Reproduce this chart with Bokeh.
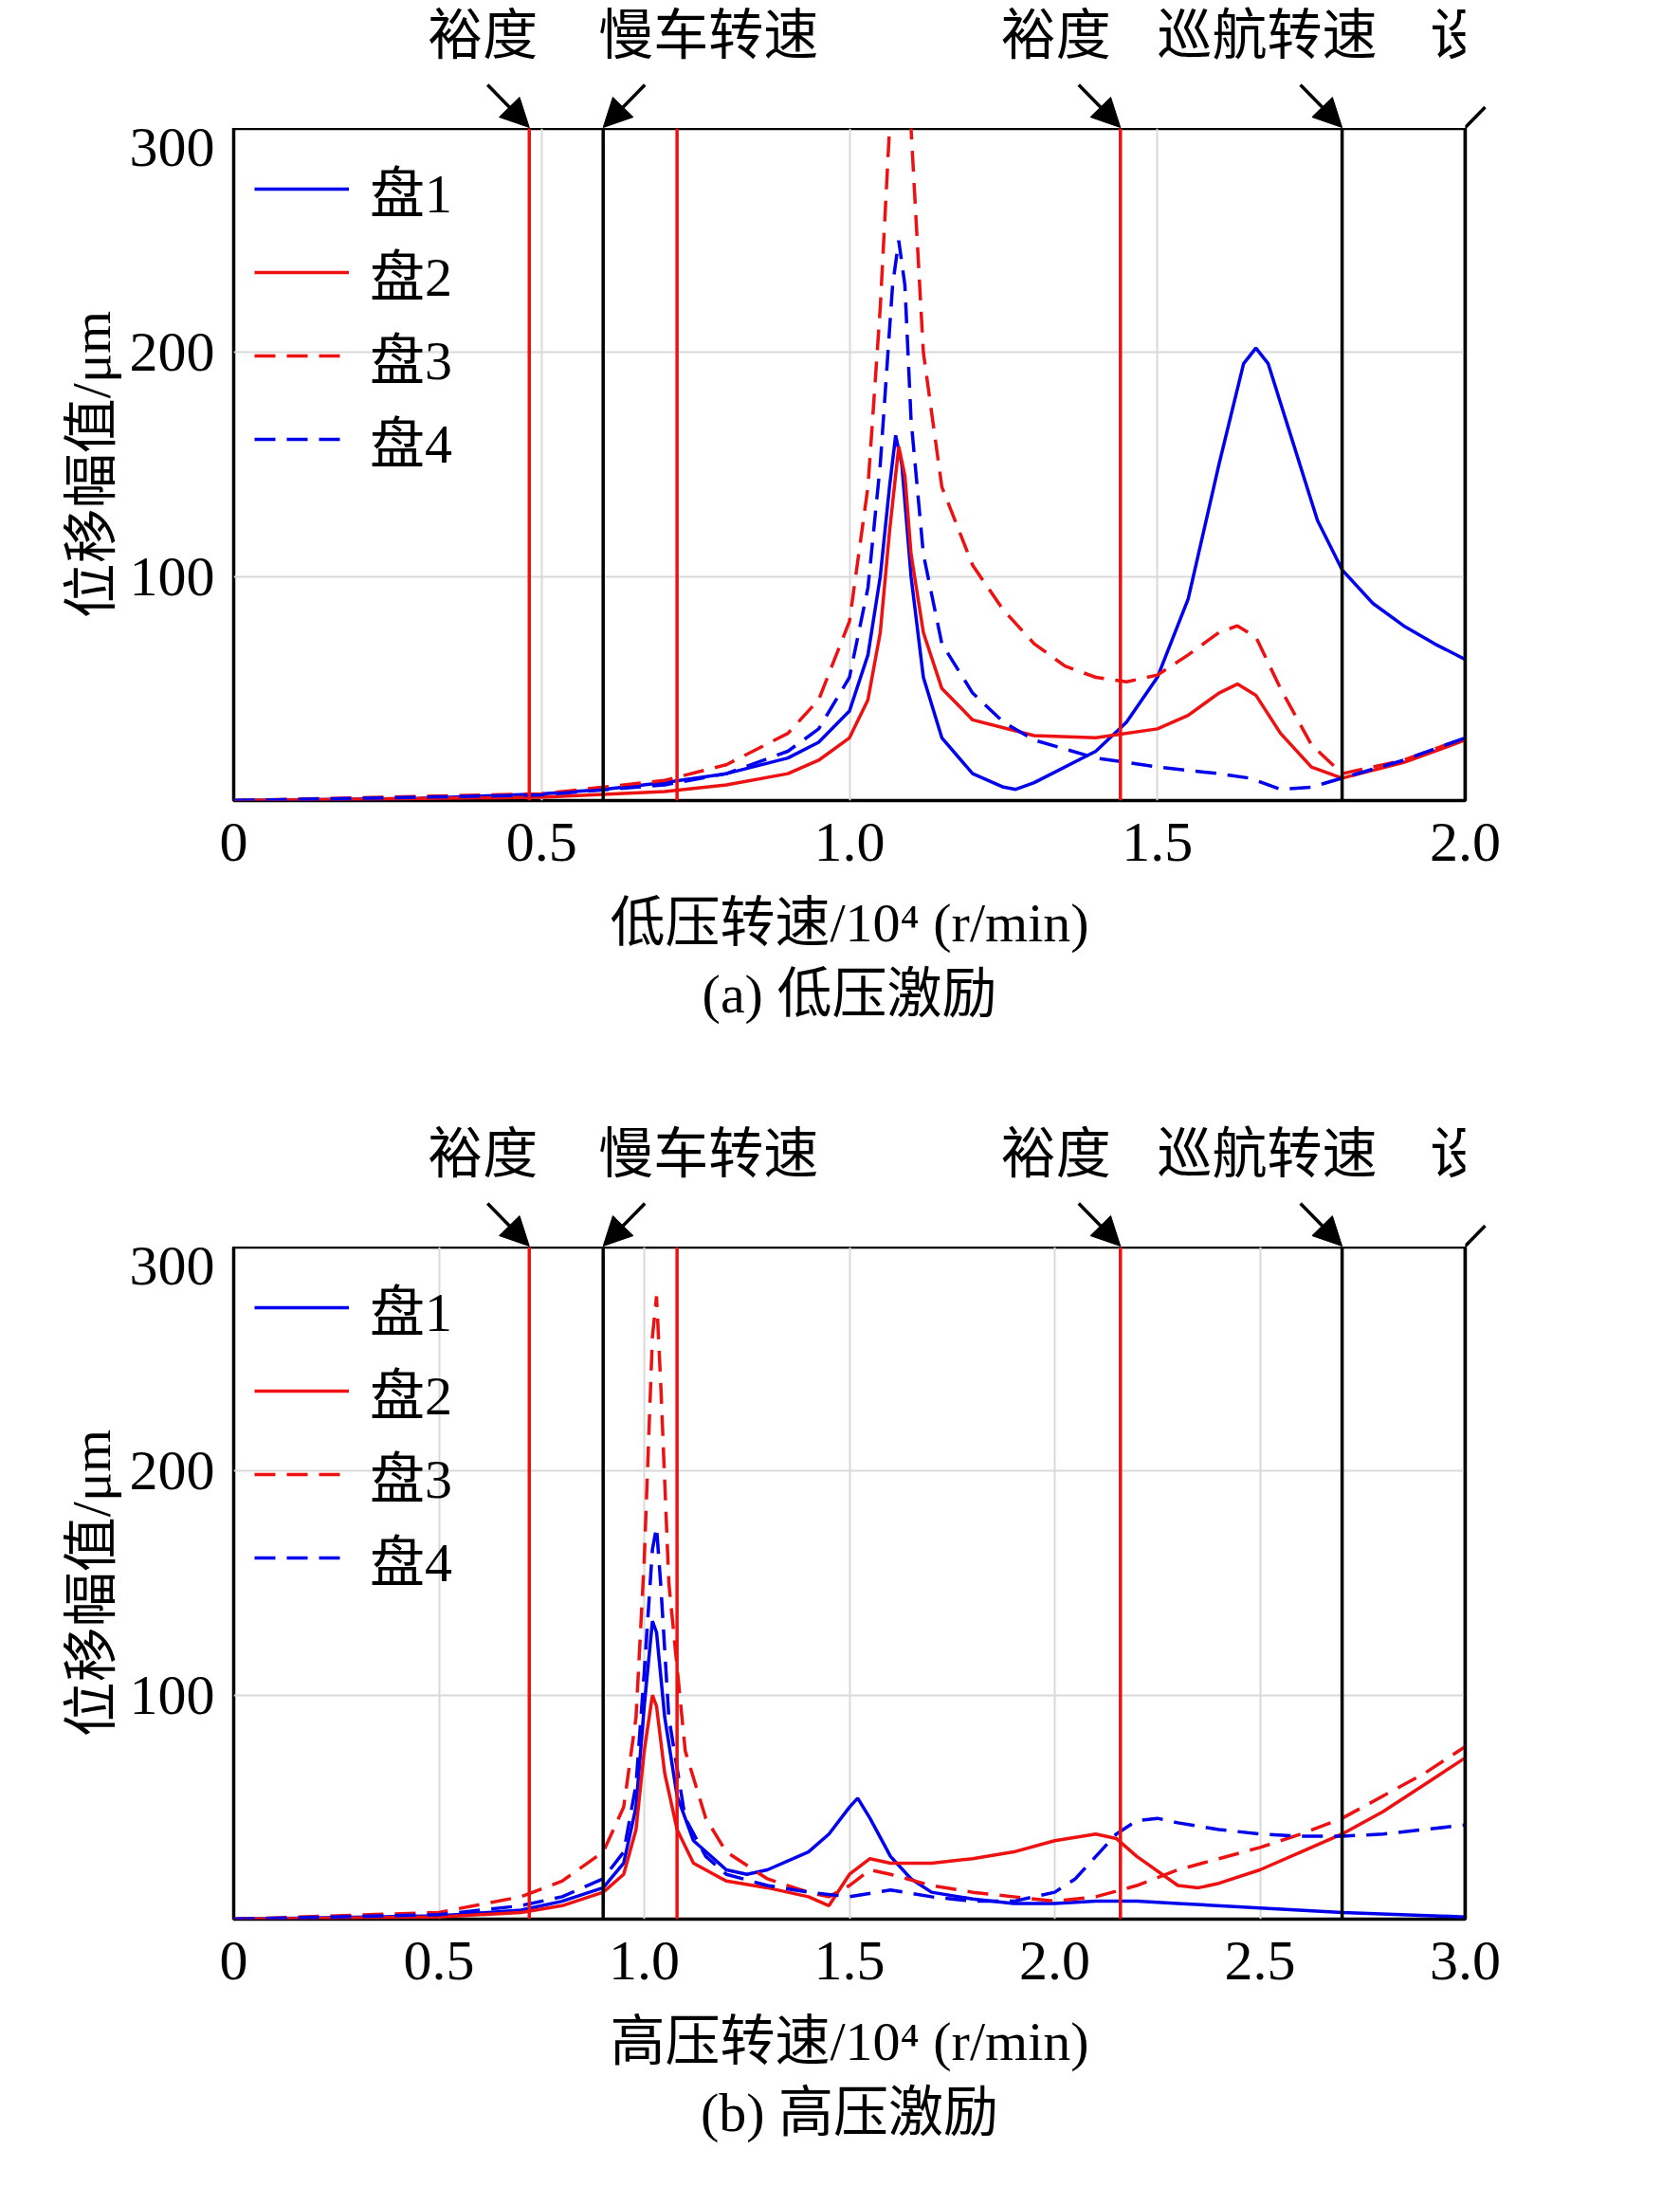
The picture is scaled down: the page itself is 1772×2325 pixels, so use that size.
from bokeh.plotting import figure
from bokeh.layouts import column
from bokeh.models import Label, Arrow, NormalHead, Span, Legend, LegendItem, Range1d, Title, FixedTicker
from bokeh.embed import file_html
from bokeh.resources import INLINE

FONT = "Liberation Serif, Noto Sans CJK SC"
BLUE = "#0000ee"; RED = "#ee1111"

# ---- panel (a) data ----
a_x1 = [0,0.3,0.5,0.6,0.7,0.8,0.9,0.95,1.0,1.03,1.05,1.065,1.075,1.085,1.1,1.12,1.15,1.2,1.25,1.27,1.3,1.4,1.45,1.5,1.55,1.6,1.64,1.66,1.68,1.72,1.76,1.8,1.85,1.9,1.95,2.0]
a_y1 = [0,1,3,5,8,12,19,26,40,65,100,140,163,150,100,55,28,12,6,5,8,22,35,55,90,150,195,202,195,160,125,103,88,78,70,63]
a_x2 = [0,0.5,0.7,0.8,0.9,0.95,1.0,1.03,1.05,1.065,1.08,1.09,1.1,1.12,1.15,1.2,1.3,1.4,1.5,1.55,1.6,1.63,1.66,1.7,1.75,1.8,1.9,2.0]
a_y2 = [0,1.5,4,7,12,18,28,45,75,120,158,145,110,75,50,36,29,28,32,38,48,52,47,30,15,10,17,27]
a_x3 = [0,0.5,0.7,0.8,0.9,0.95,1.0,1.03,1.05,1.065,1.075,1.09,1.1,1.12,1.15,1.2,1.25,1.3,1.35,1.4,1.45,1.5,1.55,1.6,1.63,1.66,1.7,1.75,1.8,1.9,2.0]
a_y3 = [0,3,9,16,30,45,80,140,220,300,380,380,300,200,140,105,85,70,60,55,53,56,65,75,78,73,50,25,12,18,28]
a_x4 = [0,0.5,0.7,0.8,0.9,0.95,1.0,1.03,1.05,1.07,1.08,1.09,1.1,1.12,1.15,1.2,1.25,1.3,1.4,1.5,1.6,1.65,1.7,1.75,1.8,1.9,2.0]
a_y4 = [0,2.5,7,12,22,32,55,95,150,230,250,230,170,110,70,48,35,27,19,15,12,10,5,6,10,18,28]

# ---- panel (b) data ----
b_x1 = [0,0.5,0.7,0.8,0.9,0.95,0.98,1.0,1.02,1.03,1.05,1.08,1.12,1.2,1.25,1.3,1.4,1.45,1.5,1.52,1.55,1.6,1.65,1.7,1.8,1.9,2.0,2.1,2.2,2.3,2.5,2.7,3.0]
b_y1 = [0,1.5,4,8,14,25,50,95,133,128,90,55,35,22,20,22,30,38,50,54,45,28,18,12,9,7,7,8,8,7,5,3,1]
b_x2 = [0,0.5,0.7,0.8,0.9,0.95,0.98,1.0,1.02,1.03,1.05,1.08,1.12,1.2,1.3,1.4,1.45,1.5,1.55,1.6,1.7,1.8,1.9,2.0,2.1,2.15,2.2,2.3,2.35,2.4,2.5,2.6,2.7,2.8,2.9,3.0]
b_y2 = [0,1,3,6,12,20,40,75,100,95,65,40,25,17,14,10,6,20,27,25,25,27,30,35,38,36,28,15,14,16,22,30,38,48,60,72]
b_x3 = [0,0.5,0.7,0.8,0.9,0.95,0.98,1.0,1.02,1.03,1.04,1.06,1.1,1.15,1.2,1.3,1.4,1.45,1.5,1.55,1.6,1.7,1.8,1.9,2.0,2.1,2.2,2.3,2.4,2.5,2.6,2.7,2.8,2.9,3.0]
b_y3 = [0,3,10,17,30,50,90,160,260,278,240,150,75,45,30,18,12,10,15,22,20,15,12,10,8,10,15,22,27,32,38,45,55,65,77]
b_x4 = [0,0.5,0.7,0.8,0.9,0.95,0.98,1.0,1.02,1.03,1.04,1.06,1.1,1.15,1.2,1.3,1.4,1.5,1.6,1.7,1.8,1.9,2.0,2.05,2.1,2.15,2.2,2.25,2.3,2.4,2.5,2.6,2.7,2.8,2.9,3.0]
b_y4 = [0,2,6,10,18,30,60,110,165,175,150,90,45,28,20,15,12,10,13,10,8,8,12,18,28,38,44,45,43,40,38,37,37,38,40,42]

legend_names = ["盘1", "盘2", "盘3", "盘4"]
ann_names = ["裕度", "慢车转速", "裕度", "巡航转速", "设计转速"]
a_lines = [0.48, 0.6, 0.72, 1.44, 1.8, 2.0]
a_line_colors = [RED, "black", RED, RED, "black", "black"]
a_ann_x = [0.48, 0.6, 1.44, 1.8, 2.0]
b_lines = [0.72, 0.9, 1.08, 2.16, 2.7, 3.0]
b_line_colors = [RED, "black", RED, RED, "black", "black"]
b_ann_x = [0.72, 0.9, 2.16, 2.7, 3.0]
ann_dir = [-1, 1, -1, -1, 1]
ann_text_off = [-49, 111, -68, -79, 79]


def annot(xr, xmax, ann_x):
    h = 135
    q = figure(width=1756, height=h, output_backend="svg", toolbar_location=None,
               x_range=xr, y_range=Range1d(0, h),
               min_border_left=246, min_border_right=211, min_border_top=0, min_border_bottom=0)
    q.axis.visible = False
    q.grid.visible = False
    q.outline_line_color = None
    dxd = xmax / 1299 * 44
    for xv, nm, dr, to in zip(ann_x, ann_names, ann_dir, ann_text_off):
        q.add_layout(Arrow(end=NormalHead(size=30, fill_color="black", line_color="black"),
                           x_start=xv + dr * dxd, y_start=46, x_end=xv, y_end=1,
                           line_width=3.5, line_color="black"))
        q.add_layout(Label(x=xv, y=98, x_offset=to, text=nm, text_align="center", text_baseline="middle",
                           text_font=FONT, text_font_size="58px", text_color="black"))
    return q


def panel(xmax, series, lines, lcols, ann_x, xlabel, caption, height, bottom):
    xr = Range1d(0, xmax)
    p = figure(width=1756, height=height, output_backend="svg", toolbar_location=None,
               x_range=xr, y_range=Range1d(0, 300),
               min_border_left=246, min_border_right=211, min_border_top=0, min_border_bottom=bottom)
    p.outline_line_color = "black"; p.outline_line_width = 3.5
    for ax in (p.xaxis[0], p.yaxis[0]):
        ax.axis_line_color = None
        ax.major_tick_line_color = None
        ax.minor_tick_line_color = None
        ax.major_label_text_font = FONT
        ax.major_label_text_font_size = "60px"
        ax.axis_label_text_font = FONT
        ax.axis_label_text_font_size = "58px"
        ax.axis_label_text_font_style = "normal"
        ax.axis_label_text_color = "black"
        ax.major_label_text_color = "black"
    xt = [i * 0.5 for i in range(int(xmax / 0.5) + 1)]
    p.xaxis.ticker = FixedTicker(ticks=xt)
    p.xaxis.major_label_overrides = {t: ("0" if t == 0 else f"{t:.1f}") for t in xt}
    p.yaxis.ticker = FixedTicker(ticks=[100, 200, 300])
    p.xaxis.axis_label = xlabel
    p.yaxis.axis_label = "位移幅值/μm"
    p.xaxis.major_label_standoff = 18
    p.yaxis.major_label_standoff = 14
    p.xaxis.axis_label_standoff = 30
    p.grid.grid_line_color = "#d9d9d9"; p.grid.grid_line_width = 2
    p.xgrid.ticker = FixedTicker(ticks=xt)
    p.ygrid.ticker = FixedTicker(ticks=[100, 200, 300])

    for xv, c in zip(lines, lcols):
        p.add_layout(Span(location=xv, dimension="height", line_color=c, line_width=3.5))

    styles = [(BLUE, "solid"), (RED, "solid"), (RED, "22 12"), (BLUE, "22 12")]
    items = []
    for (xs, ys), (c, d), name in zip(series, styles, legend_names):
        r = p.line(xs, ys, line_color=c, line_width=3.5, line_dash=d)
        items.append(LegendItem(label=name, renderers=[r]))
    leg = Legend(items=items, location="top_left", border_line_color=None, background_fill_alpha=0,
                 label_text_font=FONT, label_text_font_size="58px", label_text_color="black",
                 glyph_width=100, glyph_height=30, label_height=30,
                 spacing=4, padding=10, margin=22, label_standoff=22)
    p.add_layout(leg)
    p.add_layout(Title(text=caption, align="center", text_font=FONT, text_font_size="58px",
                       text_font_style="normal", text_color="black"), "below")
    return p, annot(xr, xmax, ann_x)


pa, qa = panel(2.0, [(a_x1, a_y1), (a_x2, a_y2), (a_x3, a_y3), (a_x4, a_y4)], a_lines, a_line_colors, a_ann_x,
               "低压转速/10⁴ (r/min)", "(a) 低压激励", 1045, 336)
pb, qb = panel(3.0, [(b_x1, b_y1), (b_x2, b_y2), (b_x3, b_y3), (b_x4, b_y4)], b_lines, b_line_colors, b_ann_x,
               "高压转速/10⁴ (r/min)", "(b) 高压激励", 994, 285)

lay = column(qa, pa, qb, pb, spacing=0)
open("out.html", "w").write(file_html(lay, INLINE))
